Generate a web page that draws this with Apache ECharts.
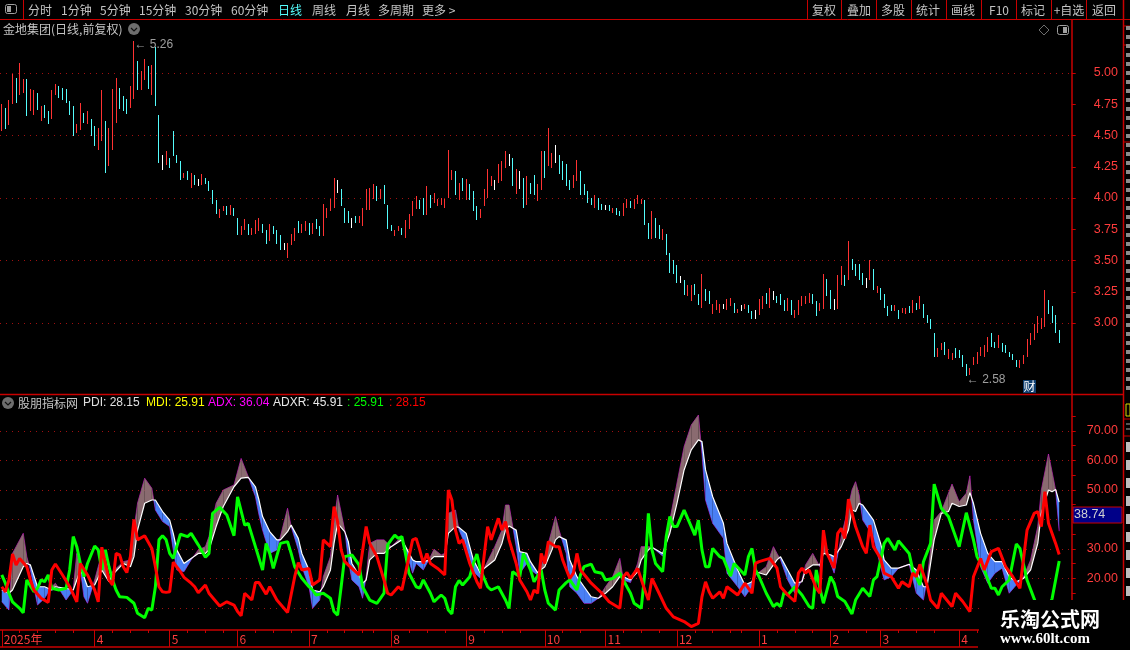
<!DOCTYPE html>
<html><head><meta charset="utf-8">
<style>html,body{margin:0;padding:0;background:#000}#c{width:1130px;height:650px}</style>
<script src="https://cdn.jsdelivr.net/npm/echarts@6/dist/echarts.min.js"></script>
</head><body><div id="c"></div>
<script>
// ---------- price bars (high / low / colour kind) ----------
const barHigh=[
4.752,4.72,4.784,4.992,4.96,5.08,4.952,4.952,4.872,4.864,4.84,4.736,4.744,4.696,4.864,4.912,4.896,4.88,4.872,4.776,
4.736,4.592,4.76,4.68,4.696,4.632,4.576,4.56,4.864,4.616,4.56,4.872,4.96,4.88,4.816,4.792,4.896,5.26,5.096,5.016,
5.112,5.056,5.064,5.21,4.664,4.344,4.376,4.32,4.536,4.344,4.296,4.2,4.216,4.2,4.184,4.152,4.192,4.16,4.136,4.064,
3.984,3.912,3.936,3.936,
3.944,3.92,3.84,3.776,3.832,3.792,3.76,3.824,3.84,3.792,3.744,3.792,3.776,3.744,3.704,3.64,3.64,3.712,3.76,3.816,
3.792,3.816,3.8,3.8,3.832,3.776,3.952,3.92,3.992,4.16,4.144,4.072,3.92,3.896,3.84,3.856,3.856,3.92,4.072,4.08,
4.112,4.096,4.072,4.104,3.944,3.784,3.744,3.776,3.76,3.824,3.872,3.976,4.016,3.984,4.0,4.096,4.024,4.04,3.992,4.0,
3.992,4.384,4.224,4.216,4.12,4.16,4.152,4.112,
4.056,3.936,3.912,4.072,4.232,4.176,4.144,4.272,4.296,4.376,4.352,4.32,4.232,4.216,4.16,4.176,4.12,4.184,4.112,4.376,
4.376,4.56,4.36,4.424,4.344,4.296,4.272,4.144,4.184,4.304,4.216,4.112,4.056,4.0,4.024,4.0,3.952,3.944,3.944,3.92,
3.92,3.896,3.96,3.992,3.976,3.992,4.024,3.992,
3.984,3.8,3.896,3.84,3.784,3.752,3.712,3.56,3.504,3.464,3.376,3.344,3.304,3.304,3.312,3.232,3.392,3.272,3.256,3.152,
3.184,3.152,3.152,3.192,3.2,3.16,3.112,3.144,3.152,3.144,3.096,3.104,3.192,3.216,3.24,3.28,3.256,3.216,3.232,3.184,
3.2,3.184,3.104,3.184,3.216,3.216,3.24,3.232,3.176,3.16,3.392,3.352,3.264,3.192,3.384,3.456,3.384,3.656,3.512,3.472,
3.472,3.4,3.36,3.504,3.432,3.296,
3.28,3.232,3.136,3.144,3.144,3.104,3.12,3.12,3.136,3.184,3.16,3.216,3.152,3.064,3.032,2.92,2.8,2.84,2.848,2.792,
2.76,2.8,2.784,2.744,2.672,2.64,2.728,2.768,2.808,2.824,2.888,2.92,2.848,2.904,2.84,2.824,2.768,2.752,2.704,2.704,
2.744,2.872,2.92,2.992,3.056,3.04,3.264,3.184,3.136,3.064,2.944];
const barLow=[
4.536,4.552,4.584,4.752,4.76,4.824,4.84,4.656,4.696,4.664,4.704,4.616,4.64,4.592,4.632,4.824,4.8,4.784,4.76,4.664,
4.496,4.52,4.544,4.6,4.592,4.496,4.416,4.384,4.456,4.2,4.256,4.384,4.6,4.712,4.696,4.672,4.72,4.8,4.864,4.864,
4.944,4.872,4.824,4.736,4.28,4.224,4.264,4.24,4.336,4.28,4.144,4.16,4.144,4.08,4.104,4.096,4.104,4.112,4.056,3.952,
3.872,3.84,3.896,3.864,
3.864,3.856,3.704,3.704,3.744,3.704,3.704,3.712,3.736,3.72,3.632,3.656,3.712,3.632,3.584,3.584,3.52,3.624,3.656,3.72,
3.72,3.736,3.704,3.712,3.752,3.696,3.696,3.84,3.896,3.92,4.04,3.936,3.8,3.8,3.76,3.8,3.8,3.776,3.904,3.904,
3.992,3.976,3.992,3.952,3.752,3.736,3.696,3.736,3.704,3.68,3.752,3.856,3.912,3.912,3.864,3.864,3.92,3.96,3.936,3.944,
3.92,4.0,4.144,4.024,3.984,4.056,3.984,3.984,
3.896,3.824,3.84,3.936,4.0,4.096,4.064,4.12,4.136,4.24,4.256,4.096,4.032,4.072,3.92,3.944,4.032,4.024,3.976,4.064,
4.16,4.256,4.24,4.28,4.192,4.144,4.096,4.064,4.08,4.136,4.024,4.024,3.96,3.944,3.92,3.904,3.904,3.904,3.896,3.88,
3.864,3.856,3.856,3.92,3.92,3.912,3.952,3.952,
3.784,3.672,3.672,3.68,3.672,3.664,3.544,3.4,3.392,3.32,3.32,3.224,3.216,3.176,3.224,3.144,3.12,3.176,3.152,3.072,
3.104,3.08,3.112,3.104,3.136,3.08,3.08,3.096,3.112,3.08,3.032,3.032,3.064,3.112,3.152,3.12,3.184,3.16,3.144,3.096,
3.096,3.064,3.04,3.064,3.136,3.152,3.16,3.152,3.056,3.096,3.112,3.216,3.112,3.104,3.112,3.304,3.296,3.344,3.424,3.376,
3.344,3.304,3.28,3.344,3.264,3.24,
3.184,3.12,3.056,3.096,3.096,3.032,3.08,3.072,3.08,3.08,3.104,3.112,3.04,3.0,2.952,2.728,2.728,2.784,2.744,2.712,
2.704,2.72,2.72,2.648,2.58,2.584,2.664,2.672,2.736,2.728,2.768,2.808,2.8,2.8,2.768,2.76,2.728,2.704,2.648,2.64,
2.672,2.728,2.824,2.864,2.92,2.952,2.968,3.072,3.0,2.92,2.84];
const barKind=(
"rcrrcrrcrr"+"crccrrcccc"+"crrcrccrrc"+"rrrcccrrcr"+"rcrccwrccc"+"crcrcwrccc"+
"crrc"+
"rccrrcrrrc"+"crcccwrrrc"+"rrcrccrrrr"+"wcccwcrrrr"+"rcrcccrrcr"+"rrrccrcrrr"+"rrrcrcrc"+
"ccrrrrwrrr"+"wcrwcrccrr"+"crrwccccrr"+"ccccrccwcr"+"ccrrcrrr"+
"ccrccrcccc"+"wcrrccrccr"+"rrwrrcrwrc"+"cwrrcrwccc"+"rcrrrrrccr"+"rccwrrcrcc"+"ccwrcr"+
"ccccrcrrcr"+"crccccrrcr"+"rccccrrrrr"+"rccrcccccr"+"rrrrrrrccc"+"c").split("");
const barColors={r:"#ff3232",c:"#54fcfc",w:"#ffffff"};
const categories=Array.from({length:300},(_,i)=>String(i));
const extremeMarks=[[37,5.26,"← 5.26"],[270,2.58,"← 2.58"]];

// ---------- indicator: ADX / ADXR band, sampled by bar index ----------
const bandIdx=[0,2,3,6,7,8,10,12,14,15,18,20,21,22,23,24,26,28,30,31,34,36,37,38,40,42,43,45,47,48,49,51,53,55,57,58,60,62,65,67,69,71,72,73,75,77,78,80,81,83,84,86,87,89,90,92,93,94,96,97,98,100,101,102,103,105,107,109,112,
115,116,118,120,121,123,124,125,127,128,130,132,134,135,138,140,141,142,144,145,147,148,150,152,154,155,156,158,159,161,163,165,167,169,171,173,174,176,178,179,181,182,185,187,189,191,193,195,196,197,199,202,203,206,208,210,211,
214,216,217,218,220,222,224,225,227,229,230,232,233,235,237,238,239,240,241,244,246,247,249,251,254,256,258,259,261,263,265,266,268,270,271,272,274,276,278,280,282,284,286,288,290,291,293,294,295,296];
const bandAdxr=[16.1,15,16.1,24,25.1,24.6,17.2,17.2,16.1,17.2,16.7,16.1,19.5,22.9,20.6,17.2,17.8,22.9,18.9,21.2,25.1,24,27.4,36.4,45.5,46.6,46.6,42.7,39.8,35.3,29.7,25.1,26.8,28.5,28.5,29.7,37.6,44.4,51.1,54,54.3,51.1,46.6,41,35.9,33.1,33.1,35.9,38.1,33.6,28.5,22.9,16.1,15.5,17.2,22.9,31.9,38.7,35.9,32.5,25.1,21.2,18.4,19.5,26.3,28.5,28.5,30.8,33.1,
26.3,25.7,25.7,26.3,27.4,27.4,27.4,35.3,37.6,37.3,35.3,26.3,21.8,23.4,26.3,31.9,36.4,37.8,36.4,29.1,28.5,25.7,22,24,29.7,33.1,34.2,33.1,26.3,20.6,17.2,13.8,13.3,15,17.2,20.6,20.6,19.5,22.3,26.3,29.7,30.6,28.5,35.3,45.5,56.8,63.6,67,66.4,56.8,47.7,38.7,31.9,22.9,17.8,18.9,22.3,
21.2,24.6,26.3,27.4,22.9,18.4,18.9,22.9,24.6,24.6,28.5,28,27.4,30.8,36.4,43.2,42.7,45.5,44.9,39.8,31.9,26.3,23.5,23.5,24.8,22.9,17.2,17.2,33.1,42.1,42.7,45.5,44.4,44.9,49.1,45.5,35.3,28.5,25.7,25.7,20.6,18.9,20,22.9,31.9,42.1,50,49.4,50.2,45.91];
const bandAdx=[12.1,9.3,28.5,35.3,27.4,22.9,11,13.3,17.2,18.4,12.7,16.1,28.5,22.9,13.8,11.6,19.5,28.5,20.6,22.3,25.7,26.3,36.4,45.5,54,50.6,43.2,39.3,37.6,29.7,22.9,22.3,26.3,29.7,30.8,34.2,45.5,50,51.7,60.7,54.5,47.7,41.5,36.4,28.5,29.7,34.2,43.8,37.6,29.7,24,17.2,9.9,12.7,20.6,27.4,38.7,48.3,36.4,26.3,19.5,17.2,13.3,20.6,31.9,33.1,33.1,30.8,34.2,
21.8,25.1,22.9,27.4,29.9,28,28.5,42.1,43.2,36.4,30.8,22.3,20,23.4,30.8,36.4,44.9,44.9,30.8,21.8,25.1,22.9,21.2,27.4,36.4,41,36.4,28.5,17.2,15,11.6,11.6,13.3,17.2,20.6,26.8,19.5,18.6,25.1,30.8,30.8,30.6,27.6,39.8,52.3,64.7,72,75.4,62.4,46.6,38.7,33.6,21.8,17.2,13.8,17.2,21.2,
24,30.8,28.5,26.3,19.5,15,19.5,24.6,28.5,24,33.1,25.1,21.8,34.2,44.4,50,52.8,48.3,39.8,34.2,24,19.5,20.6,23.5,24.8,15,12.7,19.5,39.8,42.7,48.9,52,46,48.9,54.8,39.8,24,18.4,21.8,23.5,15,17.8,20.6,26.3,37.6,50,62.2,56.2,50,36.04];

// ---------- indicator: PDI and MDI read as [bar index, value] ----------
const pdiPoints=[[0,17.2],[1,15.5],[2,19.5],[3,28.3],[4,24.6],[5,26.8],[7,24],[8,19.5],[9,16.1],[11,13.3],[13,11.9],[14,22.9],[15,24.9],[17,21.2],[19,17.2],[21,12.1],[22,25.1],[24,21.2],[26,16.1],[27,12.1],[28,30.6],[30,19.5],[31,17.8],[32,28.5],[33,28],[34,24],[35,22],[36,27.4],[37,40],[38,33.1],[40,34.5],[42,30.2],[43,24],[44,17.2],[45,15.5],[46,15.3],[47,15.5],[48,25.5],[50,22.3],[51,20.4],[53,18.4],[54,17.2],[55,15.2],[57,17.8],[58,15],[61,10.7],[63,12.1],[65,11],[66,8.8],[67,7.4],[68,15],[70,12.7],[71,18.6],[72,18.6],[74,14.7],[75,17.2],[77,12.7],[80,8.5],[82,20.6],[83,25.4],[84,22.9],[86,23.4],[87,17.8],[89,19.5],[90,33.1],[92,30.8],[93,44.4],[94,39.3],[95,29.7],[96,25.7],[98,23.4],[100,21.2],[102,37.6],[103,31.9],[105,27.4],[107,19.5],[108,15],[109,14.4],[111,17.2],
[112,16.1],[114,27.4],[115,33.1],[116,33.6],[117,29.7],[118,25.1],[119,28.5],[120,25.1],[122,23.4],[124,21.2],[125,50],[126,46.6],[127,36.4],[128,31.9],[129,33.1],[131,25.1],[133,18.9],[134,16.7],[135,27.4],[136,37.6],[137,33.1],[139,40.4],[140,36.4],[141,39.3],[142,33.1],[144,25.1],[145,19.5],[147,15.5],[148,12.7],[149,16.1],[150,15],[151,28.5],[152,25.1],[153,32.5],[155,30.8],[156,30.8],[157,26.3],[159,20],[160,21.8],[161,28.5],[162,22.9],[165,18.4],[168,15],[170,12.1],[173,9.9],[174,20.6],[175,22],[176,20],[178,23.4],[180,16.1],[181,12.7],[182,20],[184,15],[186,9.9],[188,7],[191,5.4],[193,3.7],[195,4.8],[196,13.8],[197,18.9],[198,15.5],[199,13.3],[201,15.5],[202,13.3],[203,17.2],[206,14.4],[208,18.4],[210,15],[211,25.1],
[212,25.7],[215,26.8],[217,23.5],[218,17.2],[220,14.4],[222,12.2],[223,21.8],[224,23.5],[225,21.8],[226,22.9],[228,16.7],[229,15],[230,36.4],[231,28.5],[233,23.5],[234,35.3],[235,37],[236,33.6],[237,46.9],[239,37.6],[241,30.8],[242,28.5],[243,38.1],[244,30.8],[246,26.8],[247,21.8],[249,20.6],[251,16.7],[252,18.9],[254,17.2],[255,21.8],[256,20.6],[257,24.8],[259,17.8],[260,12.7],[262,9.9],[263,15],[266,10.5],[267,15],[269,12.2],[271,8.8],[272,20.6],[274,26.8],[275,22.9],[277,29.1],[279,30.2],[281,24],[283,20.6],[285,16.7],[287,36.4],[289,42.1],[290,42.7],[291,37.6],[292,49.4],[293,38.7],[295,31.9],[296,28.15]];
const mdiPoints=[[0,21.2],[1,18.4],[2,15],[3,12.1],[5,9.9],[6,8.4],[7,19.5],[9,15.5],[10,16.7],[11,19.5],[12,18.9],[13,21.2],[14,16.7],[16,16.1],[18,16.7],[19,22.9],[20,34.2],[21,30.8],[22,25.1],[23,20.6],[24,25.1],[26,31],[27,29.7],[28,22.9],[29,29.7],[30,24],[31,19.5],[32,16.1],[33,13.8],[35,13.6],[37,11.6],[38,8.2],[40,6.7],[41,9.9],[42,9.3],[43,17.2],[44,33.1],[45,34.5],[46,33.1],[47,28.5],[48,26.8],[50,35],[52,34.2],[53,35.3],[55,31.4],[57,27.2],[58,28.5],[59,42.1],[61,44.1],[63,41.5],[65,34.5],[66,47.7],[68,38.1],[69,38.7],[71,30.8],[73,22.9],[74,31.9],[75,28.5],[76,23.4],[78,31.9],[80,32.5],[81,28.5],[82,24],[84,20.1],[86,17.2],[87,16.1],[88,14.4],[90,15],[92,13.3],[93,8.8],[94,7.6],[95,17.2],[96,27.4],[98,28],[100,24.6],[101,17.2],[103,12.7],[105,11.6],[106,13.3],[107,15],[108,31.4],[109,33.1],[110,34.7],[111,33.6],
[112,34.2],[113,28.5],[114,21.8],[116,17.2],[117,16.7],[118,19.5],[120,15],[121,12.1],[122,13.3],[123,14.4],[124,13.3],[125,9.3],[126,8],[127,17.2],[128,19.3],[129,17.8],[131,20.6],[132,25.1],[133,28.3],[134,22.9],[136,17.2],[137,16.1],[139,17.2],[141,12.7],[142,9.9],[143,22.3],[145,20.6],[146,28.5],[148,22.9],[149,18.9],[151,22.9],[152,16.1],[153,11.6],[155,9.3],[156,16.1],[158,18.6],[159,19.5],[161,16.1],[162,21.2],[163,24],[165,24.9],[166,22.3],[168,21.8],[169,19.5],[171,20],[173,21.8],[175,17.2],[176,15],[177,11.6],[179,9.9],[180,21.8],[181,42.1],[182,29.7],[183,25.1],[185,22.3],[186,34.2],[187,41],[188,37.6],[189,37.6],[191,43.2],[193,37.6],[194,34.7],[195,39.8],[196,29.7],[197,24],[198,24],[199,30.2],[201,27.4],[202,26.8],[204,20.8],[205,25.1],[208,21.2],[209,27.4],[210,30.2],[211,22.9],
[212,20.6],[214,15],[216,10.5],[217,11.6],[218,10.5],[219,15.5],[220,14.4],[222,17.2],[224,14.4],[226,10.5],[227,9.9],[228,22.9],[229,16.7],[230,11.6],[232,20.6],[233,18.4],[234,13.9],[236,12.2],[238,8],[239,12.7],[241,16.7],[243,13.9],[244,19.5],[245,20.6],[247,31.9],[248,33.6],[250,29.7],[251,32.8],[254,28.5],[255,22.9],[256,20.6],[257,17.8],[258,25.7],[260,31.9],[261,52],[263,43.8],[265,41],[268,30.8],[270,42.3],[272,33.1],[273,27.4],[275,22.9],[277,16.7],[278,16.7],[279,14.4],[280,17.2],[282,19.5],[284,31.7],[285,30.2],[287,19.5],[289,13.1],[291,6],[294,13.1],[296,25.91]];

// ---------- ticks and labels ----------
const priceTicks=[3,3.25,3.5,3.75,4,4.25,4.5,4.75,5];
const priceGrid=[3,3.5,4,4.5,5];
const indTicks=[15,20,25,30,35,40,45,50,55,60,65,70,75];
const indLabels=[20,30,50,60,70];
const indGrid=[10,20,30,40,50,60,70];
const monthTicks=[0,26,47,66,86,109,130,152,169,189,212,232,246,268];
const monthLabels=["2025年","4","5","6","7","8","9","10","11","12","1","2","3","4"];
const weekTicks=[5,10,15,20,31,36,41,52,57,62,71,76,81,91,96,101,104,114,119,124,135,140,145,157,162,174,179,184,194,199,204,207,217,222,227,237,242,251,256,261,273,278,283,288,293];
const menuLeft=[["分时",28],["1分钟",61],["5分钟",100],["15分钟",139],["30分钟",185],["60分钟",231],["日线",278],["周线",312],["月线",346],["多周期",378],["更多 >",422]];
const menuRight=[["复权",824],["叠加",859],["多股",893],["统计",928],["画线",963],["F10",999],["标记",1033],["+自选",1069],["返回",1104]];
const menuSeps=[807,841,876,911,946,981,1016,1051,1086,1123];
const legendItems=[["PDI: 28.15",83,"#e0e0e0"],["MDI: 25.91",146,"#ffff00"],["ADX: 36.04",208,"#ff00ff"],["ADXR: 45.91",273,"#e8e8e8"],[": 25.91",347,"#00ff00"],[": 28.15",389,"#ff0000"]];

const RED="#c80000",GRID="#a01010",LABEL="#ff3c3c",TXT="#c4c4c4";
const CJK='"Noto Sans CJK SC",sans-serif',LAT='"Liberation Sans",sans-serif';
const BROWN="#8a6b70",BLUE="#4a7ff5";

function text(t,x,y,c,opt){return {type:"text",z:(opt&&opt.zz)||50,x:x,y:y,style:Object.assign({text:t,fill:c||TXT,font:"12px "+CJK,textVerticalAlign:"middle"},opt||{})};}
function hline(x1,x2,y,c,w){return {type:"line",z:40,shape:{x1,y1:y,x2,y2:y},style:{stroke:c||RED,lineWidth:w||1}};}
function vline(x,y1,y2,c,w){return {type:"line",z:40,shape:{x1:x,y1,x2:x,y2},style:{stroke:c||RED,lineWidth:w||1}};}
function chevronIcon(cx,cy){return [
 {type:"circle",z:50,shape:{cx,cy,r:6},style:{fill:"#6e6e6e"}},
 {type:"polyline",z:51,shape:{points:[[cx-3,cy-1],[cx,cy+2],[cx+3,cy-1]]},style:{stroke:"#111",fill:null,lineWidth:1.2}}];}

const gfx=[];
gfx.push(hline(0,1130,19.5));
gfx.push(vline(23.5,0,19));
menuLeft.forEach(m=>gfx.push(text(m[0],m[1],10,m[0]==="日线"?"#54fcfc":TXT)));
menuRight.forEach(m=>gfx.push(text(m[0],m[1],10,TXT,{textAlign:"center"})));
menuSeps.forEach(x=>gfx.push(vline(x+.5,0,19)));
gfx.push({type:"rect",z:50,shape:{x:5.5,y:4.5,width:11,height:9,r:2},style:{stroke:"#a0a0a0",fill:"#000",lineWidth:1}});
gfx.push({type:"rect",z:51,shape:{x:7,y:6,width:4,height:6},style:{fill:"#a0a0a0"}});
gfx.push(text("金地集团(日线,前复权)",3,29,TXT));
gfx.push(...chevronIcon(134,29));
gfx.push({type:"polygon",z:50,shape:{points:[[1044,25],[1049,30],[1044,35],[1039,30]]},style:{stroke:"#6e6e6e",fill:null,lineWidth:1}});
gfx.push({type:"rect",z:50,shape:{x:1057.5,y:25.5,width:11,height:9,r:2},style:{stroke:"#a0a0a0",fill:"#000",lineWidth:1}});
gfx.push({type:"rect",z:51,shape:{x:1063,y:27,width:4,height:6},style:{fill:"#a0a0a0"}});
gfx.push(hline(0,1123,394.5,RED,1.5));
gfx.push(hline(0,978,647,RED,1.5));
gfx.push(...chevronIcon(8,403));
gfx.push(text("股朋指标网",18,403,TXT));
legendItems.forEach(l=>gfx.push(text(l[0],l[1],403,l[2],{font:"12px "+LAT})));
gfx.push({type:"rect",z:45,shape:{x:1073,y:507,width:49,height:16},style:{fill:"#000088",stroke:RED,lineWidth:1}});
gfx.push(text("38.74",1074,515,"#d0d0d0",{font:"12.5px "+LAT}));
gfx.push({type:"rect",z:50,shape:{x:1023,y:380,width:13,height:13},style:{fill:"#0f3f70"}});
gfx.push(text("财",1029.5,386.5,"#ffffff",{textAlign:"center"}));
// right edge sidebar
gfx.push(vline(1123.5,0,600,RED,1.5));
gfx.push({type:"rect",z:50,shape:{x:1126,y:404,width:4,height:12},style:{fill:"#000",stroke:"#d8d800",lineWidth:1}});
gfx.push(hline(1123,1130,419,RED));gfx.push(hline(1123,1130,436,RED));
for(let y=424;y<432;y+=5)gfx.push(hline(1126,1130,y,"#aaa"));
for(let y=442;y<600;y+=18)gfx.push({type:"rect",z:50,shape:{x:1126,y,width:4,height:10},style:{fill:"#bdbdbd"}});
for(let y=26;y<392;y+=9)gfx.push({type:"rect",z:50,shape:{x:1126,y,width:4,height:4},style:{fill:"#8c8c8c"}});
[26,45,142].forEach(y=>gfx.push(hline(1123,1130,y,RED)));
// watermark
gfx.push({type:"rect",z:60,shape:{x:979,y:600,width:151,height:50},style:{fill:"#000"}});
gfx.push(text("乐淘公式网",1050,619,"#ffffff",{font:"bold 20px 'Noto Sans CJK SC'",textAlign:"center",zz:62}));
gfx.push(text("www.60lt.com",1045,639,"#ffffff",{font:"bold 15px 'Liberation Serif'",textAlign:"center",zz:62}));

const chart=echarts.init(document.getElementById("c"),null,{renderer:"canvas"});
const barData=barHigh.map((h,i)=>[i,h,barLow[i]]);
function renderBar(params,api){
  const i=api.value(0),top=api.coord([i,api.value(1)]),bot=api.coord([i,api.value(2)]);
  return {type:"rect",shape:{x:Math.round(top[0]-0.5),y:Math.round(top[1]),width:1,height:Math.max(1,Math.round(bot[1]-top[1]))},
    style:{fill:barColors[barKind[params.dataIndex]]}};
}
const bandData=bandIdx.map((x,i)=>[x,bandAdx[i],bandAdxr[i]]);
function renderBand(params,api){
  const i=params.dataIndex;
  if(i>=bandData.length-1)return null;
  const a=bandData[i],b=bandData[i+1];
  const da=a[1]-a[2],db=b[1]-b[2];
  const P=(x,v)=>api.coord([x,v]);
  const out=[];
  const poly=(pts,c)=>out.push({type:"polygon",shape:{points:pts},style:{fill:c}});
  if(da*db>=0){
    poly([P(a[0],a[1]),P(b[0],b[1]),P(b[0],b[2]),P(a[0],a[2])],(da+db)>=0?BROWN:BLUE);
  }else{
    const t=da/(da-db),xc=a[0]+t*(b[0]-a[0]),vc=a[2]+t*(b[2]-a[2]);
    poly([P(a[0],a[1]),P(xc,vc),P(a[0],a[2])],da>0?BROWN:BLUE);
    poly([P(xc,vc),P(b[0],b[1]),P(b[0],b[2])],db>0?BROWN:BLUE);
  }
  return {type:"group",children:out};
}
const lineDefaults={type:"line",xAxisIndex:1,yAxisIndex:2,symbol:"none",silent:true,animation:false};
const splitDot={show:true,lineStyle:{color:GRID,type:[1,5],width:1}};
chart.setOption({
  backgroundColor:"#000",animation:false,
  grid:[
    {left:-0.8,top:20,width:1072.5,height:374},
    {left:-0.8,top:395,width:1072.5,height:235}
  ],
  xAxis:[
    {type:"category",gridIndex:0,data:categories,boundaryGap:true,show:false},
    {type:"value",gridIndex:1,min:-0.5,max:299.5,position:"bottom",splitLine:{show:false},
      axisLine:{show:true,onZero:false,lineStyle:{color:RED,width:1.5}},
      axisTick:{show:true,customValues:monthTicks,length:17,lineStyle:{color:RED,width:1}},
      axisLabel:{customValues:monthTicks,margin:3,align:"left",padding:[0,0,0,2],color:LABEL,
        fontFamily:CJK,fontSize:12,showMinLabel:true,showMaxLabel:true,hideOverlap:false,
        formatter:v=>monthLabels[monthTicks.indexOf(v)]||""}},
    {type:"value",gridIndex:1,min:-0.5,max:299.5,position:"bottom",splitLine:{show:false},
      axisLine:{show:false},axisLabel:{show:false},
      axisTick:{show:true,customValues:weekTicks,length:3,lineStyle:{color:RED,width:1}}}
  ],
  yAxis:[
    {type:"value",gridIndex:0,position:"right",min:2.432,max:5.424,scale:true,splitLine:{show:false},
      axisLine:{show:true,onZero:false,lineStyle:{color:RED,width:1.5}},
      axisTick:{show:true,customValues:priceTicks,length:4,lineStyle:{color:RED}},
      axisLabel:{customValues:priceTicks,margin:22,padding:[3,0,0,0],color:LABEL,fontFamily:"Liberation Sans",fontSize:12.5,align:"left",formatter:v=>v.toFixed(2)}},
    {type:"value",gridIndex:0,position:"right",min:2.432,max:5.424,scale:true,
      axisLine:{show:false},axisLabel:{show:false},
      axisTick:{show:false,customValues:priceGrid},splitLine:splitDot},
    {type:"value",gridIndex:1,position:"right",min:2.54,max:82.2,scale:true,splitLine:{show:false},
      axisLine:{show:true,onZero:false,lineStyle:{color:RED,width:1.5}},
      axisTick:{show:true,customValues:indTicks,length:4,lineStyle:{color:RED}},
      axisLabel:{customValues:indLabels,margin:15,padding:[3,0,0,0],color:LABEL,fontFamily:"Liberation Sans",fontSize:12.5,align:"left",formatter:v=>v.toFixed(2)}},
    {type:"value",gridIndex:1,position:"right",min:2.54,max:82.2,scale:true,
      axisLine:{show:false},axisLabel:{show:false},
      axisTick:{show:false,customValues:indGrid},splitLine:splitDot}
  ],
  graphic:{elements:gfx},
  series:[
    {type:"custom",xAxisIndex:0,yAxisIndex:0,data:barData,renderItem:renderBar,silent:true,animation:false,z:5,
      encode:{x:0,y:[1,2]}},
    {type:"scatter",xAxisIndex:0,yAxisIndex:0,data:extremeMarks,symbolSize:1,silent:true,animation:false,z:6,
      itemStyle:{color:"transparent"},
      label:{show:true,position:"right",distance:0,offset:[0,4],color:TXT,fontFamily:"Liberation Sans",fontSize:12,
        formatter:p=>p.data[2]}},
    Object.assign({},lineDefaults,{name:"ADX",data:bandIdx.map((x,i)=>[x,bandAdx[i]]),z:2,lineStyle:{color:"#ff00ff",width:0.6}}),
    {type:"custom",xAxisIndex:1,yAxisIndex:2,data:bandData,renderItem:renderBand,silent:true,animation:false,z:3,
      encode:{x:0,y:[1,2]}},
    Object.assign({},lineDefaults,{name:"ADXR",data:bandIdx.map((x,i)=>[x,bandAdxr[i]]),z:4,lineStyle:{color:"#ffffff",width:1.2}}),
    Object.assign({},lineDefaults,{name:"MDI",data:mdiPoints,z:5,lineStyle:{color:"#00ff00",width:3}}),
    Object.assign({},lineDefaults,{name:"PDI",data:pdiPoints,z:6,lineStyle:{color:"#ff0000",width:3}})
  ]
});
</script></body></html>
